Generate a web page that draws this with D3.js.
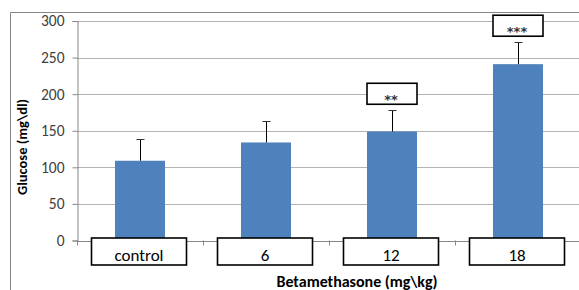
<!DOCTYPE html>
<html><head><meta charset="utf-8">
<script src="https://cdn.jsdelivr.net/npm/d3@7"></script>
<style>body{margin:0;background:#fff}svg{display:block}</style>
</head><body>
<script>
const categories = ["control", "6", "12", "18"];
const values = [109, 134, 149, 241];
const errors = [30, 29, 29, 30];
const significance = ["", "", "**", "***"];
const yTicks = [0, 50, 100, 150, 200, 250, 300];
const yTitle = "Glucose (mg\\dl)";
const xTitle = "Betamethasone (mg\\kg)";

(function () {
const W = 579, H = 290;
const svg = d3.select("body").append("svg").attr("width", W).attr("height", H);
const font = "Carlito, Calibri, Lato, 'Open Sans', sans-serif";

// outer chart border
svg.append("path").attr("d", `M10.5,${H} V12.5 H${W}`).attr("fill", "none").attr("stroke", "#868686").attr("stroke-width", 1);

const pLeft = 77, pRight = 581, pTop = 21, pBottom = 240.5;
const x = d3.scaleBand().domain(categories).range([pLeft, pRight]).paddingInner(0.603).paddingOuter(0.3015);
const y = d3.scaleLinear().domain([0, 300]).range([pBottom, pTop]);

// gridlines
svg.append("g").selectAll("line").data(yTicks.filter(d => d > 0)).join("line")
  .attr("x1", pLeft).attr("x2", W).attr("y1", d => Math.round(y(d)) + 0.5).attr("y2", d => Math.round(y(d)) + 0.5)
  .attr("stroke", "#b3b3b3").attr("stroke-width", 1);

// y axis
const yAxis = svg.append("g").attr("transform", `translate(${pLeft + 0.5},0)`)
  .call(d3.axisLeft(y).tickValues(yTicks).tickSize(5).tickPadding(8));
yAxis.select(".domain").attr("stroke", "#868686");
yAxis.selectAll(".tick line").attr("stroke", "#868686");
yAxis.selectAll(".tick text").attr("font-family", font).attr("font-size", 15.5).attr("fill", "#404040");

// x axis line & ticks
svg.append("line").attr("x1", pLeft).attr("x2", W).attr("y1", Math.round(pBottom) + 0.5).attr("y2", Math.round(pBottom) + 0.5).attr("stroke", "#868686");
svg.append("g").selectAll("line").data(d3.range(categories.length + 1)).join("line")
  .attr("x1", i => Math.round(pLeft + i * x.step()) + 0.5)
  .attr("x2", i => Math.round(pLeft + i * x.step()) + 0.5)
  .attr("y1", pBottom).attr("y2", pBottom + 5).attr("stroke", "#868686");

// bars
svg.append("g").selectAll("rect").data(categories).join("rect")
  .attr("x", d => x(d)).attr("width", x.bandwidth())
  .attr("y", (d, i) => y(values[i])).attr("height", (d, i) => y(0) - y(values[i]))
  .attr("fill", "#4f81bd");

// error bars (upper only)
const eb = svg.append("g");
categories.forEach((c, i) => {
  const cx = Math.round(x(c) + x.bandwidth() / 2) + 0.5;
  const ty = Math.round(y(values[i] + errors[i])) + 0.5;
  eb.append("line").attr("x1", cx).attr("x2", cx).attr("y1", y(values[i])).attr("y2", ty).attr("stroke", "#000").attr("stroke-width", 1);
  eb.append("line").attr("x1", cx - 4).attr("x2", cx + 4).attr("y1", ty).attr("y2", ty).attr("stroke", "#333").attr("stroke-width", 1);
});

// category label boxes
const bw = 95, bh = 27;
categories.forEach((c, i) => {
  const cx = x(c) + x.bandwidth() / 2 - 1;
  svg.append("rect").attr("x", cx - bw / 2).attr("y", 238).attr("width", bw).attr("height", bh)
    .attr("fill", "#fff").attr("stroke", "#000").attr("stroke-width", 1.6);
  svg.append("text").attr("x", cx).attr("y", 261).attr("text-anchor", "middle")
    .attr("font-family", font).attr("font-size", 17).attr("fill", "#000").text(c);
});

// significance boxes
categories.forEach((c, i) => {
  if (!significance[i]) return;
  const cx = x(c) + x.bandwidth() / 2;
  const by = y(values[i] + errors[i]) - 27;
  svg.append("rect").attr("x", cx - 25).attr("y", by).attr("width", 50).attr("height", 21)
    .attr("fill", "#fff").attr("stroke", "#000").attr("stroke-width", 1.6);
  svg.append("text").attr("x", cx - 1).attr("y", by + 21).attr("text-anchor", "middle")
    .attr("font-family", "'DejaVu Sans', sans-serif").attr("font-size", 13).attr("font-weight", "bold")
    .attr("letter-spacing", 0).attr("fill", "#333").text(significance[i]);
});

// axis titles
svg.append("text").attr("transform", `translate(27,147) rotate(-90)`).attr("text-anchor", "middle")
  .attr("font-family", font).attr("font-size", 14.5).attr("font-weight", "bold").attr("fill", "#000").text(yTitle);
svg.append("text").attr("x", 357).attr("y", 287).attr("text-anchor", "middle")
  .attr("font-family", font).attr("font-size", 16).attr("font-weight", "bold").attr("fill", "#000").text(xTitle);
})();
</script>
</body></html>
